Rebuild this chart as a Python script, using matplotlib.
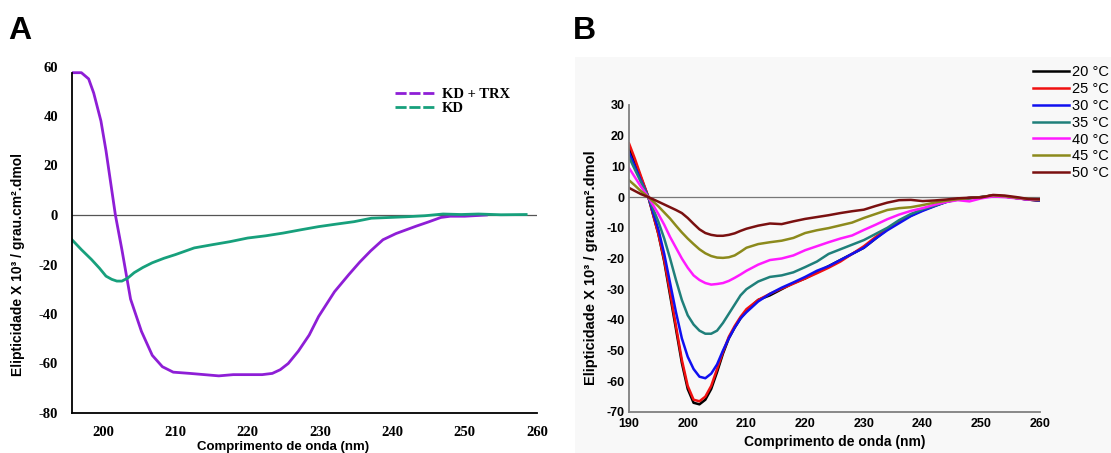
import matplotlib
matplotlib.use("Agg")
import matplotlib.pyplot as plt
from matplotlib.patches import Rectangle

plt.rcParams["axes.unicode_minus"] = False

# ---- panel A data (nm, ellipticity x10^3) ----
wl_trx = [195.7, 197.0, 198.0, 198.7, 199.7, 200.4, 201.4, 201.7, 202.6, 203.8,
          205.3, 206.8, 208.2, 209.7, 212.0, 214.0, 216.0, 218.0, 220.0, 222.0,
          223.4, 224.5, 225.6, 227.0, 228.5, 229.8, 232.0, 234.0, 235.5, 237.0,
          238.7, 240.5, 243.3, 245.0, 246.7, 248.0, 250.0, 253.0]
kd_trx = [57.5, 57.5, 55.0, 49.3, 38.0, 26.0, 6.0, 0.0, -14.0, -34.0,
          -47.0, -56.7, -61.3, -63.5, -64.0, -64.5, -65.0, -64.5, -64.5, -64.5,
          -64.0, -62.5, -60.0, -55.0, -48.5, -41.0, -31.0, -24.0, -19.0, -14.5,
          -10.0, -7.5, -4.5, -2.8, -1.0, -0.5, -0.5, 0.0]

wl_kd = [195.7, 197.0, 198.4, 199.5, 200.4, 201.2, 201.9, 202.6, 203.4, 204.3,
         205.5, 206.8, 208.4, 210.0, 212.6, 215.1, 217.5, 220.0, 222.5, 224.9,
         227.3, 229.8, 232.2, 234.7, 237.1, 239.6, 242.0, 244.5, 247.0, 249.5,
         251.9, 255.0, 258.5]
kd = [-10.0, -14.0, -18.0, -21.5, -24.7, -26.0, -26.7, -26.7, -25.5, -23.3,
      -21.2, -19.3, -17.5, -16.0, -13.3, -12.0, -10.8, -9.3, -8.4, -7.3,
      -6.0, -4.7, -3.7, -2.7, -1.3, -1.0, -0.7, -0.3, 0.4, 0.2,
      0.4, 0.1, 0.2]

# ---- panel B data ----
wl_b = [190, 191, 192, 193.3, 195, 196, 197, 198, 199, 200, 201, 202, 203, 204, 205,
        206, 207, 208, 209, 210, 212, 214, 216, 218, 220, 222, 224, 226, 228, 230,
        232, 234, 236, 238, 240, 242, 244, 246, 248, 250, 252, 254, 256, 258, 260]
t20 = [16, 11.5, 6.5, 0, -12, -21, -32, -43, -54, -62.5, -67, -67.5, -66, -62.5, -57,
       -51, -46, -42.5, -39.5, -37, -33.5, -32, -30, -28, -26.5, -24.5, -22.5, -20.5, -18.5, -16.5,
       -13.5, -10.5, -8, -6, -4.2, -2.8, -1.5, -0.6, -0.3, 0, 0.5, 0.2, -0.3, -0.8, -1.2]
t25 = [17.5, 12.5, 7, 0, -12, -20.5, -31, -42, -53, -61.5, -66, -66.5, -65, -61.5, -56,
       -50.5, -45.5, -42, -39, -36.5, -33.5, -31.5, -29.8, -28.2, -26.5, -24.8, -23, -21, -18.5, -16,
       -13, -10.3, -8, -6, -4.3, -2.9, -1.5, -0.6, -0.3, 0, 0.5, 0.2, -0.3, -0.8, -1.1]
t30 = [14.5, 10, 5.5, 0, -10.5, -18.5, -28, -37.5, -46, -52, -56, -58.5, -59, -57.5, -54.5,
       -50, -46, -42.5, -39.5, -37.5, -34, -31.5, -29.5, -27.8, -26, -24, -22.5, -20.5, -18.5, -16.5,
       -13.5, -10.8, -8.5, -6.2, -4.5, -3, -1.6, -0.6, -0.3, 0, 0.5, 0.2, -0.3, -0.8, -1.1]
t35 = [13, 9, 5, 0, -8, -13.5, -20, -27, -33.5, -38.5, -41.5, -43.5, -44.5, -44.5, -43.5,
       -41, -38, -35, -32, -30, -27.5, -26, -25.5, -24.5, -22.8, -21, -18.5, -17, -15.5, -14,
       -12, -10, -7.5, -5.5, -4, -2.8, -1.6, -0.8, -0.4, 0, 0.4, 0.2, -0.3, -0.7, -1]
t40 = [9.5, 6.5, 3.5, 0, -5.5, -9, -13, -16.5, -20, -23, -25.5, -27, -28, -28.5, -28.3,
       -28, -27.3, -26.3, -25.2, -24, -22, -20.5, -20, -19, -17.3, -16, -14.7, -13.5, -12.5, -10.7,
       -9, -7.2, -5.7, -4.5, -3.6, -2.5, -1.6, -1, -1.4, -0.4, 0.2, 0, -0.4, -0.8, -0.9]
t45 = [5.5, 3.8, 2, 0, -3, -5, -7, -9.3, -11.5, -13.5, -15.3, -17, -18.3, -19.2, -19.7,
       -19.8, -19.6, -19, -17.8, -16.5, -15.3, -14.7, -14.2, -13.3, -11.7, -10.8, -10.1, -9.2, -8.3, -6.8,
       -5.5, -4.2, -3.6, -3.3, -2.6, -1.8, -1.2, -0.7, -0.3, 0, 0.6, 0.3, -0.2, -0.6, -0.8]
t50 = [3, 2, 1, 0, -1.5, -2.4, -3.3, -4.2, -5.2, -6.8, -8.7, -10.5, -11.7, -12.3, -12.6,
       -12.6, -12.3, -11.8, -11, -10.3, -9.3, -8.6, -8.8, -7.9, -7.1, -6.5, -5.9, -5.2, -4.6, -4.1,
       -2.9, -1.8, -1, -0.9, -1.3, -1.1, -0.8, -0.4, -0.2, -0.1, 0.7, 0.5, 0, -0.6, -0.7]

temps = ["20 °C", "25 °C", "30 °C", "35 °C", "40 °C", "45 °C", "50 °C"]
series_b = [t20, t25, t30, t35, t40, t45, t50]
colors_b = ["#000000", "#f01010", "#1010f0", "#1f7f7a", "#ff1aff", "#8c8a1c", "#7a1010"]

ylab = "Elipticidade X 10³ / grau.cm².dmol"
xlab = "Comprimento de onda (nm)"

W, H = 1111, 453
fig = plt.figure(figsize=(W / 100, H / 100), dpi=100)
fig.patch.set_facecolor("white")

# faint background box behind panel B
bg = Rectangle((575 / W, 0), 536 / W, (H - 57) / H, transform=fig.transFigure,
               facecolor="#f8f8f8", edgecolor="none", zorder=-5)
fig.patches.append(bg)

# ---------------- panel A ----------------
axA = fig.add_axes([72 / W, (H - 413) / H, 465 / W, 346.5 / H])
axA.set_facecolor("none")
axA.plot(wl_trx, kd_trx, color="#8e1ed6", lw=2.0)
axA.plot(wl_kd, kd, color="#17a07c", lw=2.0)
axA.axhline(0, color="#555555", lw=0.9, zorder=0)
axA.set_xlim(195.7, 259.6)
axA.set_ylim(-80, 60)
axA.set_xticks(range(200, 261, 10))
axA.set_yticks(range(-80, 61, 20))
for s in ["top", "right"]:
    axA.spines[s].set_visible(False)
axA.spines["left"].set_bounds(-80, 57.5)
for s in ["left", "bottom"]:
    axA.spines[s].set_linewidth(1.3)
axA.tick_params(length=0, labelsize=10.5)
axA.tick_params(axis="y", pad=10)
axA.tick_params(axis="x", pad=9)
for lab in axA.get_xticklabels() + axA.get_yticklabels():
    lab.set_fontfamily("Liberation Serif")
    lab.set_fontweight("bold")
axA.set_ylabel(ylab, fontsize=10, fontweight="bold", family="Liberation Sans")
axA.yaxis.set_label_coords(-0.101, 0.43)

lA1, = axA.plot([], [], color="#8e1ed6", lw=2.0, ls=(0, (4, 1)))
lA2, = axA.plot([], [], color="#17a07c", lw=2.0, ls=(0, (4, 1)))
axA.legend([lA1, lA2], ["KD + TRX", "KD"], loc="upper left",
           bbox_to_anchor=(382 / W, (H - 75) / H), bbox_transform=fig.transFigure,
           frameon=False, handlelength=2.8, handletextpad=0.4, labelspacing=0.05,
           prop={"family": "Liberation Serif", "weight": "bold", "size": 10.5})

fig.text(283 / W, (H - 441) / H, xlab, ha="center", va="top", fontsize=9.5,
         fontweight="bold", family="Liberation Sans")

# ---------------- panel B ----------------
axB = fig.add_axes([629 / W, (H - 412) / H, 411 / W, 307 / H])
axB.set_facecolor("none")
for y, c, t in zip(series_b, colors_b, temps):
    axB.plot(wl_b, y, color=c, lw=1.8, label=t)
axB.axhline(0, color="#777777", lw=0.9, zorder=0)
axB.set_xlim(190, 260)
axB.set_ylim(-70, 30)
axB.set_xticks(range(190, 261, 10))
axB.set_yticks(range(-70, 31, 10))
for s in ["top", "right"]:
    axB.spines[s].set_visible(False)
for s in ["left", "bottom"]:
    axB.spines[s].set_color("#808080")
    axB.spines[s].set_linewidth(1.3)
axB.tick_params(length=0, labelsize=9)
axB.tick_params(axis="y", pad=3)
axB.tick_params(axis="x", pad=4)
for lab in axB.get_xticklabels() + axB.get_yticklabels():
    lab.set_fontfamily("Liberation Sans")
    lab.set_fontweight("bold")
axB.set_xlabel(xlab, fontsize=10, fontweight="bold", family="Liberation Sans", labelpad=4)
axB.set_ylabel(ylab, fontsize=10.5, fontweight="bold", family="Liberation Sans")
axB.yaxis.set_label_coords(-0.075, 0.47)
axB.legend(loc="upper left", bbox_to_anchor=(1030 / W, (H - 62) / H),
           bbox_transform=fig.transFigure, frameon=False, handlelength=2.5,
           handletextpad=0.15, labelspacing=0.2, borderaxespad=0, borderpad=0.2,
           prop={"family": "Liberation Sans", "size": 10.5})

# panel letters
fig.text(8 / W, (H - 16) / H, "A", fontsize=23, fontweight="bold", family="Liberation Sans",
         va="top", ha="left")
fig.text(573 / W, (H - 16) / H, "B", fontsize=23, fontweight="bold", family="Liberation Sans",
         va="top", ha="left")

fig.savefig("out.png", dpi=100)
